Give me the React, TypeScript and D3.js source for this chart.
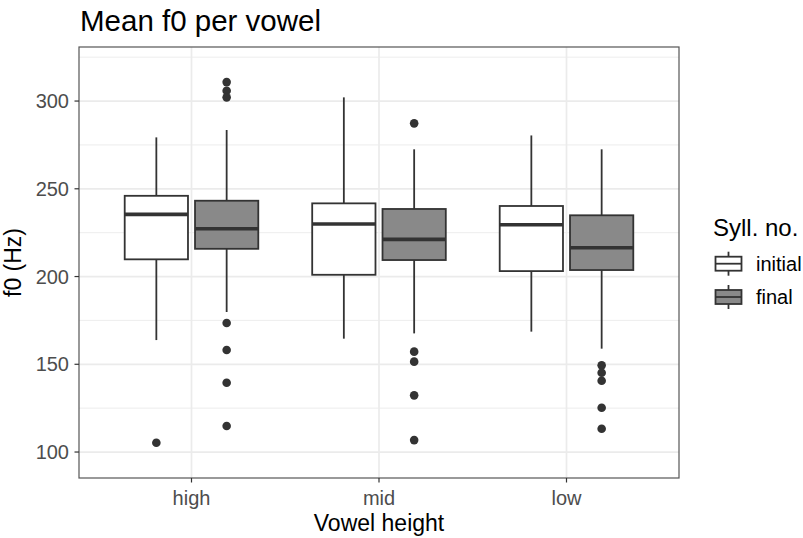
import React from "react";
import * as d3 from "d3";

// Vowel height categories and syllable-position groups
const categories = ["high", "mid", "low"];
const groups = ["initial", "final"];

// Five-number summaries (Hz) per vowel height, syllable-initial
const initialLower = [163.8, 164.6, 168.6];
const initialQ1 = [209.8, 201.0, 203.1];
const initialMedian = [235.4, 229.9, 229.5];
const initialQ3 = [246.0, 241.7, 240.2];
const initialUpper = [279.3, 302.1, 280.4];
const initialOutliers = [[105.3], [], []];

// Five-number summaries (Hz) per vowel height, syllable-final
const finalLower = [179.8, 167.6, 158.9];
const finalQ1 = [215.8, 209.4, 203.7];
const finalMedian = [227.2, 221.2, 216.4];
const finalQ3 = [243.2, 238.5, 234.9];
const finalUpper = [283.5, 272.5, 272.5];
const finalOutliers = [
  [310.8, 305.9, 302.1, 173.5, 158.1, 139.5, 114.8],
  [287.3, 157.2, 151.5, 132.3, 106.8],
  [149.4, 145.2, 140.6, 125.2, 113.3],
];

const yMajor = [100, 150, 200, 250, 300];
const yMinor = [125, 175, 225, 275, 325];

const groupFill: Record<string, string> = { initial: "#ffffff", final: "#898989" };

const W = 803;
const H = 538;
const panel = { left: 79, right: 679, top: 47, bottom: 478 };
const FONT = "'Liberation Sans', Arial, Helvetica, sans-serif";
const INK = "#333333";

type Box = {
  cat: string;
  group: string;
  lower: number;
  q1: number;
  median: number;
  q3: number;
  upper: number;
  outliers: number[];
};

const boxes: Box[] = [];
categories.forEach((cat, i) => {
  boxes.push({
    cat,
    group: "initial",
    lower: initialLower[i],
    q1: initialQ1[i],
    median: initialMedian[i],
    q3: initialQ3[i],
    upper: initialUpper[i],
    outliers: initialOutliers[i],
  });
  boxes.push({
    cat,
    group: "final",
    lower: finalLower[i],
    q1: finalQ1[i],
    median: finalMedian[i],
    q3: finalQ3[i],
    upper: finalUpper[i],
    outliers: finalOutliers[i],
  });
});

export default function App() {
  const x = d3
    .scalePoint<string>()
    .domain(categories)
    .range([panel.left, panel.right])
    .padding(0.6);
  const y = d3.scaleLinear().domain([85.2, 330.8]).range([panel.bottom, panel.top]);

  const step = x.step();
  const slot = (0.75 * step) / groups.length;
  const boxW = slot * 0.9;
  const offset = (g: string) => (groups.indexOf(g) - (groups.length - 1) / 2) * slot;

  const lw = 1.8;

  return (
    <svg
      width={W}
      height={H}
      style={{ position: "absolute", left: 0, top: 0, background: "#fff" }}
      fontFamily={FONT}
    >
      <rect x={0} y={0} width={W} height={H} fill="#fff" />

      {/* grid */}
      {yMinor
        .filter((v) => y(v) > panel.top && y(v) < panel.bottom)
        .map((v) => (
          <line key={"mn" + v} x1={panel.left} x2={panel.right} y1={y(v)} y2={y(v)} stroke="#ebebeb" strokeWidth={0.9} />
        ))}
      {yMajor.map((v) => (
        <line key={"mj" + v} x1={panel.left} x2={panel.right} y1={y(v)} y2={y(v)} stroke="#ebebeb" strokeWidth={1.7} />
      ))}
      {categories.map((c) => (
        <line key={"vx" + c} x1={x(c)} x2={x(c)} y1={panel.top} y2={panel.bottom} stroke="#ebebeb" strokeWidth={1.7} />
      ))}

      {/* boxplots */}
      {boxes.map((b) => {
        const cx = (x(b.cat) as number) + offset(b.group);
        return (
          <g key={b.cat + b.group}>
            <line x1={cx} x2={cx} y1={y(b.upper)} y2={y(b.q3)} stroke={INK} strokeWidth={lw} />
            <line x1={cx} x2={cx} y1={y(b.q1)} y2={y(b.lower)} stroke={INK} strokeWidth={lw} />
            <rect
              x={cx - boxW / 2}
              y={y(b.q3)}
              width={boxW}
              height={y(b.q1) - y(b.q3)}
              fill={groupFill[b.group]}
              stroke={INK}
              strokeWidth={lw}
            />
            <line x1={cx - boxW / 2} x2={cx + boxW / 2} y1={y(b.median)} y2={y(b.median)} stroke={INK} strokeWidth={lw * 2} />
            {b.outliers.map((o, k) => (
              <circle key={k} cx={cx} cy={y(o)} r={4.3} fill={INK} />
            ))}
          </g>
        );
      })}

      {/* panel border */}
      <rect
        x={panel.left}
        y={panel.top}
        width={panel.right - panel.left}
        height={panel.bottom - panel.top}
        fill="none"
        stroke="#555"
        strokeWidth={1.2}
      />

      {/* y axis */}
      {yMajor.map((v) => (
        <g key={"yt" + v}>
          <line x1={panel.left - 4.5} x2={panel.left} y1={y(v)} y2={y(v)} stroke={INK} strokeWidth={1.2} />
          <text x={panel.left - 10} y={y(v)} dy="0.35em" textAnchor="end" fontSize={20} fill="#4d4d4d">
            {v}
          </text>
        </g>
      ))}

      {/* x axis */}
      {categories.map((c) => (
        <g key={"xt" + c}>
          <line x1={x(c)} x2={x(c)} y1={panel.bottom} y2={panel.bottom + 4.5} stroke={INK} strokeWidth={1.2} />
          <text x={x(c)} y={505} textAnchor="middle" fontSize={20} fill="#4d4d4d">
            {c}
          </text>
        </g>
      ))}

      {/* axis titles */}
      <text x={(panel.left + panel.right) / 2} y={531} textAnchor="middle" fontSize={23} fill="#000">
        Vowel height
      </text>
      <text
        transform={`translate(21,${(panel.top + panel.bottom) / 2}) rotate(-90)`}
        textAnchor="middle"
        fontSize={23}
        fill="#000"
      >
        f0 (Hz)
      </text>

      {/* title */}
      <text x={80} y={31} fontSize={29.5} fill="#000">
        Mean f0 per vowel
      </text>

      {/* legend */}
      <text x={713} y={236} fontSize={24} fill="#000">
        Syll. no.
      </text>
      {groups.map((g, i) => {
        const cy = 263.7 + i * 33.3;
        const kx = 728.5;
        const kw = 26;
        return (
          <g key={"lg" + g}>
            <line x1={kx} x2={kx} y1={cy - 12} y2={cy + 12} stroke={INK} strokeWidth={lw} />
            <rect x={kx - kw / 2} y={cy - 7} width={kw} height={14} fill={groupFill[g]} stroke={INK} strokeWidth={lw} />
            <line x1={kx - kw / 2} x2={kx + kw / 2} y1={cy} y2={cy} stroke={INK} strokeWidth={lw} />
            <text x={756} y={cy} dy="0.35em" fontSize={20} fill="#000">
              {g}
            </text>
          </g>
        );
      })}
    </svg>
  );
}
